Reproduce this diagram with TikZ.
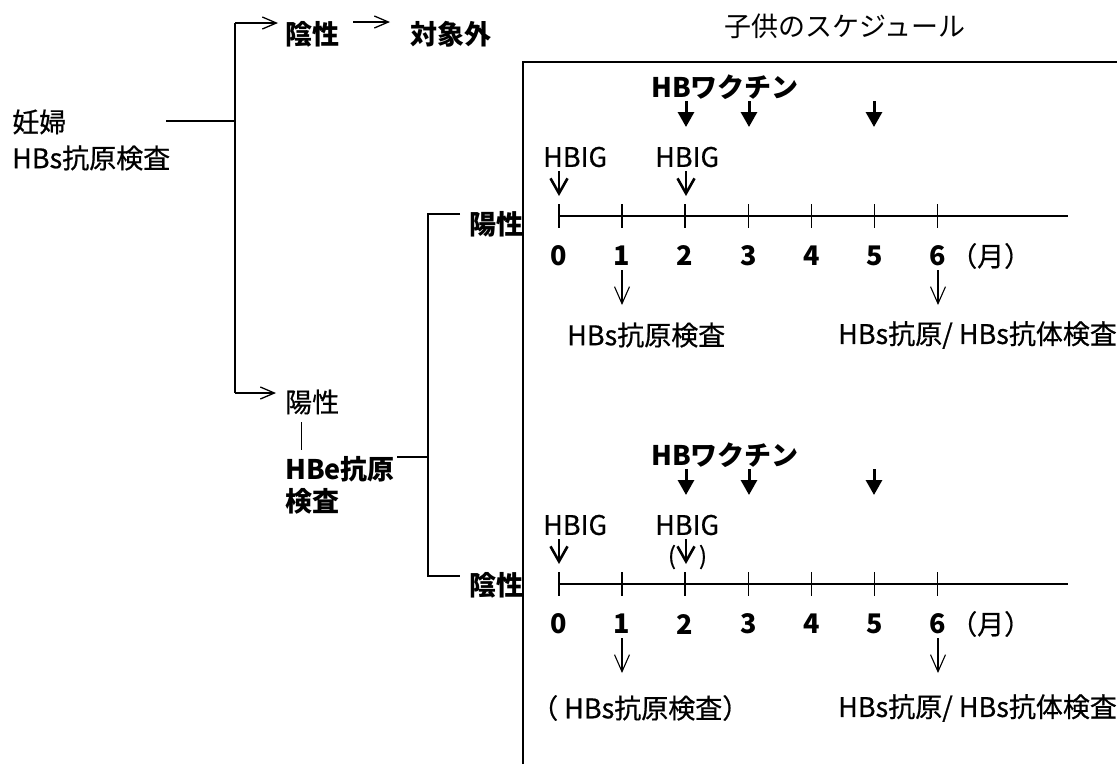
\documentclass[tikz,border=0pt]{standalone}
\usepackage{fontspec}
\setmainfont{Noto Sans CJK JP}
\newfontfamily\jpmed{Noto Sans CJK JP}[FakeBold=0.6]
\usetikzlibrary{arrows.meta}
\begin{document}
\begin{tikzpicture}[x=1pt,y=-1pt,
  lbl/.style={inner sep=0pt, anchor=west, font=\fontsize{27}{30}\jpmed},
  blbl/.style={inner sep=0pt, anchor=west, font=\fontsize{27}{30}\selectfont\bfseries},
  num/.style={inner sep=0pt, font=\fontsize{27}{28}\selectfont\bfseries},
  tree/.style={line width=1.3pt},
  treearr/.style={line width=1.3pt, -{Straight Barb[length=14pt,width=12pt]}},
  thinarr/.style={line width=1.1pt, -{Straight Barb[length=17pt,width=15pt]}},
  varr/.style={line width=2.6pt, -{Straight Barb[length=15pt,width=17pt]}},
  farr/.style={line width=3pt, -{Triangle[length=15pt,width=16pt]}},
  axis/.style={line width=1.6pt},
]
\useasboundingbox (0,0) rectangle (1117,764);

% ---------- left tree ----------
\node[lbl, align=left, font=\fontsize{27}{36}\jpmed] (preg) at (12,140) {妊婦\\HBs抗原検査};
\coordinate (p0) at (166,121);
\coordinate (j1) at (235,121);
\coordinate (jt) at (235,23);
\coordinate (jb) at (235,393);
\draw[tree] (p0) -- (j1);
\draw[tree] (jt) -- (jb);

\node[blbl] (neg1) at (285,34) {陰性};
\node[blbl] (out) at (410,34) {対象外};
\coordinate (a1e) at (278,23);
\draw[treearr] (jt) -- (a1e);
\coordinate (a2s) at (353,22);
\coordinate (a2e) at (390,22);
\draw[treearr] (a2s) -- (a2e);

\node[lbl] (pos1) at (285,402) {陽性};
\coordinate (a3e) at (276,393);
\draw[treearr] (jb) -- (a3e);
\coordinate (v1) at (301,422);
\coordinate (v2) at (301,450);
\draw[line width=1pt] (v1) -- (v2);

\node[blbl, align=left, font=\fontsize{27}{32}\selectfont\bfseries] (hbe) at (285,485) {HBe抗原\\検査};
\coordinate (h1) at (397,457);
\coordinate (h2) at (428,457);
\draw[tree] (h1) -- (h2);
\coordinate (bt) at (428,214);
\coordinate (bb) at (428,576);
\coordinate (btr) at (460,214);
\coordinate (bbr) at (460,576);
\draw[tree] (btr) -- (bt) -- (bb) -- (bbr);
\node[blbl] (pos2) at (469,224) {陽性};
\node[blbl] (neg2) at (469,585) {陰性};

% ---------- schedule box ----------
\coordinate (bx1) at (523,764);
\coordinate (bx2) at (523,62);
\coordinate (bx3) at (1117,62);
\draw[line width=2pt] (bx1) -- (bx2) -- (bx3);
\node[inner sep=0pt, font=\fontsize{27}{30}\selectfont] (title) at (845,26) {子供のスケジュール};

% ---------- timelines ----------
\foreach \pre/\sh in {a-/0, b-/368} {
\begin{scope}[shift={(0,\sh)}, name prefix=\pre]
  \node[blbl] (vac) at (651,87) {HBワクチン};
  \foreach \m/\x in {2/686,3/749,5/874} {
    \coordinate (vt\m) at (\x,101);
    \coordinate (vb\m) at (\x,127);
    \draw[farr] (vt\m) -- (vb\m);
  }
  \node[lbl] (hbig0) at (543,157) {HBIG};
  \node[lbl] (hbig2) at (655,157) {HBIG};
  \coordinate (g0t) at (559,171);
  \coordinate (g0b) at (559,196);
  \coordinate (g2t) at (686,171);
  \coordinate (g2b) at (686,196);
  \draw[varr] (g0t) -- (g0b);
  \draw[varr] (g2t) -- (g2b);
  \coordinate (t0) at (559,216);
  \coordinate (tend) at (1068,216);
  \draw[axis] (t0) -- (tend);
  \foreach \i in {0,...,6} {
    \pgfmathsetmacro\xx{559+63.1*\i}
    \coordinate (ku\i) at (\xx,204);
    \coordinate (kd\i) at (\xx,228);
    \draw[axis] (ku\i) -- (kd\i);
    \node[num] (n\i) at (\xx,256) {\i};
  }
  \node[lbl] (month) at (950,256) {（月）};
  \coordinate (e1t) at (622,270);
  \coordinate (e1b) at (622,305);
  \coordinate (e6t) at (938,270);
  \coordinate (e6b) at (938,305);
  \draw[thinarr] (e1t) -- (e1b);
  \draw[thinarr] (e6t) -- (e6b);
\end{scope}
}
\node[inner sep=0pt, font=\fontsize{24}{26}\jpmed] (lp) at (672,557) {(};
\node[inner sep=0pt, font=\fontsize{24}{26}\jpmed] (rp) at (703,557) {)};

\node[lbl] (test1) at (567,335) {HBs抗原検査};
\node[lbl] (test2) at (838,335) {HBs抗原/ HBs抗体検査};
\node[lbl] (test3) at (531,708) {（ HBs抗原検査）};
\node[lbl] (test4) at (838,708) {HBs抗原/ HBs抗体検査};
\end{tikzpicture}
\end{document}
